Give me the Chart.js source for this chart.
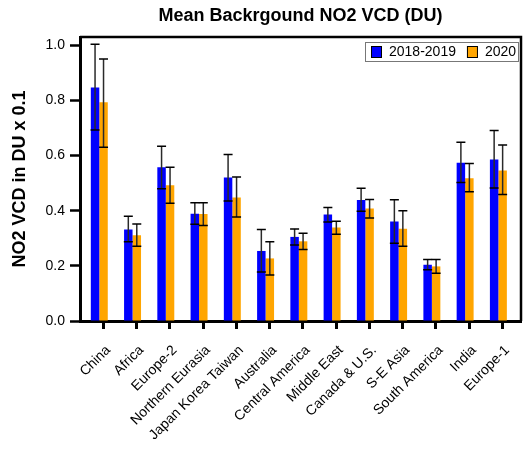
<!DOCTYPE html>
<html>
<head>
<meta charset="utf-8">
<script src="https://cdn.jsdelivr.net/npm/chart.js@4/dist/chart.umd.min.js"></script>
<style>
html,body{margin:0;padding:0;background:#fff;}
#wrap{width:523px;height:458px;}
</style>
</head>
<body>
<div id="wrap"><canvas id="c" width="523" height="458"></canvas></div>
<script>
const categories = ['China','Africa','Europe-2','Northern Eurasia','Japan Korea Taiwan','Australia','Central America','Middle East','Canada & U.S.','S-E Asia','South America','India','Europe-1'];
const mean2018 = [0.847,0.332,0.558,0.389,0.520,0.254,0.305,0.386,0.439,0.361,0.204,0.574,0.586];
const low2018  = [0.693,0.287,0.480,0.351,0.435,0.178,0.276,0.359,0.398,0.282,0.186,0.502,0.482];
const high2018 = [1.004,0.380,0.634,0.429,0.604,0.332,0.334,0.412,0.481,0.440,0.223,0.648,0.691];
const mean2020 = [0.793,0.311,0.492,0.388,0.448,0.227,0.289,0.339,0.408,0.335,0.198,0.518,0.546];
const low2020  = [0.630,0.271,0.427,0.346,0.377,0.167,0.259,0.315,0.374,0.271,0.173,0.469,0.459];
const high2020 = [0.950,0.352,0.558,0.429,0.522,0.287,0.318,0.362,0.441,0.400,0.223,0.571,0.638];
const yTicks = [0, 0.2, 0.4, 0.6, 0.8, 1.0];
const seriesNames = ['2018-2019', '2020'];

const FONT = 'Arial, "Liberation Sans", Helvetica, sans-serif';

const errorBars = {
  id: 'errorBars',
  afterDatasetsDraw(chart) {
    const ctx = chart.ctx;
    const ys = chart.scales.y;
    ctx.save();
    ctx.lineWidth = 1.5;
    chart.data.datasets.forEach((ds, di) => {
      const meta = chart.getDatasetMeta(di);
      meta.data.forEach((bar, i) => {
        const x = bar.x;
        const yl = ys.getPixelForValue(ds.errLow[i]);
        const yh = ys.getPixelForValue(ds.errHigh[i]);
        const cw = 4.5;
        ctx.strokeStyle = '#2a2a2a';
        ctx.beginPath();
        ctx.moveTo(x, yl); ctx.lineTo(x, yh);
        ctx.stroke();
        ctx.strokeStyle = '#000';
        ctx.beginPath();
        ctx.moveTo(x - cw, yl); ctx.lineTo(x + cw, yl);
        ctx.moveTo(x - cw, yh); ctx.lineTo(x + cw, yh);
        ctx.stroke();
      });
    });
    ctx.restore();
  }
};

const frameAndLegend = {
  id: 'frameAndLegend',
  afterDraw(chart) {
    const ctx = chart.ctx;
    const a = chart.chartArea;
    ctx.save();
    ctx.strokeStyle = '#000';
    ctx.lineWidth = 2.5;
    ctx.beginPath();
    ctx.moveTo(a.left, a.top);
    ctx.lineTo(a.right, a.top);
    ctx.lineTo(a.right, a.bottom);
    ctx.stroke();
    const bx = a.right - 156, by = a.top + 5, bw = 154, bh = 20;
    ctx.fillStyle = '#fff';
    ctx.fillRect(bx, by, bw, bh);
    ctx.strokeStyle = '#777';
    ctx.lineWidth = 1;
    ctx.strokeRect(bx + 0.5, by + 0.5, bw - 1, bh - 1);
    ctx.font = '14px ' + FONT;
    ctx.textBaseline = 'middle';
    let x = bx + 6;
    chart.data.datasets.forEach((ds) => {
      ctx.fillStyle = ds.backgroundColor;
      ctx.fillRect(x, by + 4, 11, 12);
      ctx.strokeStyle = '#000';
      ctx.strokeRect(x + 0.5, by + 4.5, 10, 11);
      x += 18;
      ctx.fillStyle = '#000';
      ctx.textAlign = 'left';
      ctx.fillText(ds.label, x, by + bh / 2 + 0.5);
      x += ctx.measureText(ds.label).width + 11;
    });
    ctx.restore();
  }
};

new Chart(document.getElementById('c'), {
  type: 'bar',
  data: {
    datasets: [
      {
        label: seriesNames[0],
        data: mean2018.map((v, i) => ({x: i, y: v})),
        errLow: low2018, errHigh: high2018,
        backgroundColor: '#0000ff',
        borderWidth: 0,
        categoryPercentage: 0.51,
        barPercentage: 1.0
      },
      {
        label: seriesNames[1],
        data: mean2020.map((v, i) => ({x: i, y: v})),
        errLow: low2020, errHigh: high2020,
        backgroundColor: '#ffa500',
        borderWidth: 0,
        categoryPercentage: 0.51,
        barPercentage: 1.0
      }
    ]
  },
  options: {
    responsive: false,
    animation: false,
    devicePixelRatio: 1,
    layout: { padding: { left: 0, right: 2, top: 0, bottom: 0 } },
    plugins: {
      legend: { display: false },
      tooltip: { enabled: false },
      title: {
        display: true,
        text: 'Mean Backrgound NO2 VCD (DU)',
        fullSize: false,
        color: '#000',
        font: { family: FONT, size: 18, weight: 'bold' },
        padding: { top: 5, bottom: 10.4 }
      }
    },
    scales: {
      x: {
        type: 'linear',
        min: -0.58,
        max: 12.68,
        offset: false,
        afterBuildTicks(scale) {
          scale.ticks = categories.map((c, i) => ({ value: i + 0.12 }));
        },
        afterFit(scale) {
          scale.height = 137;
          scale.paddingLeft = 0;
          scale.paddingRight = 0;
        },
        ticks: {
          autoSkip: false,
          minRotation: 45,
          maxRotation: 45,
          padding: 13,
          labelOffset: 5,
          color: '#000',
          font: { family: FONT, size: 14 },
          callback(v) { return categories[Math.round(v)]; }
        },
        grid: {
          display: true,
          offset: false,
          drawOnChartArea: false,
          drawTicks: true,
          tickLength: 8,
          tickWidth: 3,
          tickColor: '#000'
        },
        border: { display: true, color: '#000', width: 3 }
      },
      y: {
        min: 0,
        max: 1.03,
        afterBuildTicks(scale) {
          scale.ticks = yTicks.map(v => ({ value: v }));
        },
        afterFit(scale) {
          scale.width = 80;
          scale.paddingTop = 0;
          scale.paddingBottom = 0;
        },
        ticks: {
          padding: 5,
          color: '#000',
          font: { family: FONT, size: 14 },
          callback(v) { return Number(v).toFixed(1); }
        },
        grid: {
          display: true,
          drawOnChartArea: false,
          drawTicks: true,
          tickLength: 10,
          tickWidth: 2.5,
          tickColor: '#000'
        },
        border: { display: true, color: '#000', width: 3 },
        title: {
          display: true,
          text: 'NO2 VCD in DU x 0.1',
          color: '#000',
          font: { family: FONT, size: 18, weight: 'bold' },
          padding: { top: 9, bottom: 0 }
        }
      }
    }
  },
  plugins: [errorBars, frameAndLegend]
});
</script>
</body>
</html>
